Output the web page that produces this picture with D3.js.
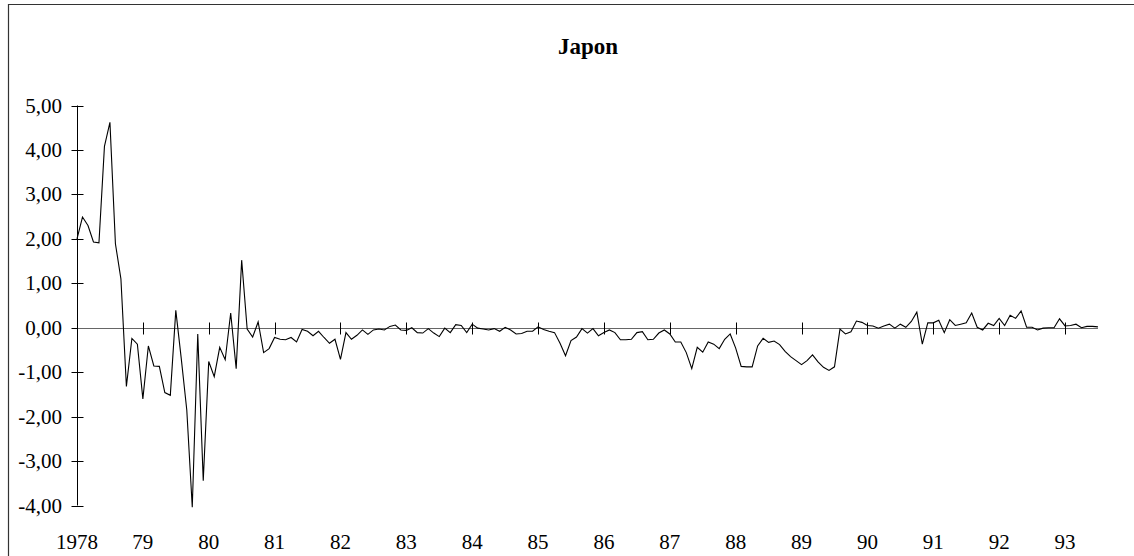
<!DOCTYPE html>
<html>
<head>
<meta charset="utf-8">
<script src="https://cdn.jsdelivr.net/npm/d3@7"></script>
<style>
  body { margin: 0; background: #fff; }
  text { font-family: "Liberation Serif", "Times New Roman", serif; fill: #000; }
</style>
</head>
<body>
<svg id="chart" width="1134" height="556"></svg>
<script>
// Japon, monthly series Jan 1978 - Jul 1993
const yearLabels = ["1978", "79", "80", "81", "82", "83", "84", "85", "86", "87", "88", "89", "90", "91", "92", "93"];
const yTicks = [5, 4, 3, 2, 1, 0, -1, -2, -3, -4];
const values = [
  2.00, 2.49, 2.30, 1.93, 1.91, 4.08, 4.62, 1.89, 1.10, -1.32, -0.24, -0.37,
  -1.60, -0.41, -0.86, -0.87, -1.46, -1.52, 0.39, -0.70, -1.85, -4.04, -0.14, -3.44,
  -0.76, -1.10, -0.44, -0.72, 0.33, -0.92, 1.52, -0.03, -0.21, 0.13, -0.56, -0.47,
  -0.22, -0.26, -0.27, -0.22, -0.32, -0.04, -0.08, -0.18, -0.08, -0.22, -0.35, -0.26,
  -0.71, -0.11, -0.26, -0.17, -0.05, -0.15, -0.05, -0.03, -0.05, 0.03, 0.06, -0.05,
  -0.06, 0.00, -0.11, -0.12, -0.02, -0.12, -0.20, -0.01, -0.11, 0.07, 0.05, -0.11,
  0.08, -0.01, -0.03, -0.05, -0.02, -0.08, 0.01, -0.05, -0.14, -0.13, -0.08, -0.08,
  0.02, -0.04, -0.08, -0.11, -0.35, -0.63, -0.29, -0.21, -0.02, -0.12, -0.02, -0.18,
  -0.11, -0.05, -0.11, -0.27, -0.27, -0.26, -0.11, -0.09, -0.27, -0.26, -0.12, -0.05,
  -0.14, -0.32, -0.32, -0.56, -0.92, -0.44, -0.55, -0.32, -0.37, -0.47, -0.26, -0.14,
  -0.46, -0.87, -0.88, -0.88, -0.41, -0.24, -0.33, -0.30, -0.38, -0.53, -0.65, -0.74,
  -0.83, -0.74, -0.61, -0.77, -0.89, -0.96, -0.88, -0.03, -0.14, -0.09, 0.15, 0.12,
  0.05, 0.04, -0.01, 0.04, 0.08, -0.01, 0.08, 0.01, 0.14, 0.35, -0.37, 0.11,
  0.11, 0.17, -0.11, 0.18, 0.05, 0.08, 0.11, 0.33, 0.01, -0.05, 0.10, 0.05,
  0.21, 0.05, 0.28, 0.21, 0.38, 0.01, 0.01, -0.05, -0.01, 0.00, 0.00, 0.20,
  0.04, 0.05, 0.08, 0.00, 0.03, 0.03, 0.02
];

const svg = d3.select("#chart");

// outer frame (runs off the right and bottom edges)
svg.append("path")
  .attr("d", "M8.5,1200 V4.5 H1200")
  .attr("fill", "none")
  .attr("stroke", "#333")
  .attr("stroke-width", 1.2);

const x = d3.scaleLinear()
  .domain([0, values.length - 1])
  .range([77, 77 + (values.length - 1) * 5.489]);

const y = d3.scaleLinear()
  .domain([-4, 5])
  .range([505.5, 105.5]);

const fmt = v => d3.format(".2f")(v).replace(".", ",").replace("−", "-");

// y axis
const yAxis = svg.append("g").attr("transform", "translate(77.5,0)");
yAxis.append("line")
  .attr("y1", y(5)).attr("y2", y(-4))
  .attr("stroke", "#000");
yAxis.selectAll(".ytick")
  .data(yTicks)
  .enter().append("line")
  .attr("x1", -6).attr("x2", 6)
  .attr("y1", d => Math.round(y(d)) + 0.5)
  .attr("y2", d => Math.round(y(d)) + 0.5)
  .attr("stroke", "#000");
svg.selectAll(".ylab")
  .data(yTicks)
  .enter().append("text")
  .attr("x", 62)
  .attr("y", d => y(d) + 7)
  .attr("text-anchor", "end")
  .attr("font-size", 21)
  .text(fmt);

// x axis at zero
const y0 = Math.round(y(0)) + 0.5;
svg.append("line")
  .attr("x1", x(0)).attr("x2", x(values.length - 1))
  .attr("y1", y0).attr("y2", y0)
  .attr("stroke", "#666");
svg.selectAll(".xtick")
  .data(yearLabels)
  .enter().append("line")
  .attr("x1", (d, i) => Math.round(x(i * 12)) + 0.5)
  .attr("x2", (d, i) => Math.round(x(i * 12)) + 0.5)
  .attr("y1", y0 - 6).attr("y2", y0 + 6)
  .attr("stroke", "#000");
svg.selectAll(".xlab")
  .data(yearLabels)
  .enter().append("text")
  .attr("x", (d, i) => x(i * 12))
  .attr("y", 549)
  .attr("text-anchor", "middle")
  .attr("font-size", 21)
  .text(d => d);

// series
const line = d3.line()
  .x((d, i) => x(i))
  .y(d => y(d));

svg.append("path")
  .datum(values)
  .attr("d", line)
  .attr("fill", "none")
  .attr("stroke", "#000")
  .attr("stroke-width", 1.1);

// title
svg.append("text")
  .attr("x", 588)
  .attr("y", 54)
  .attr("text-anchor", "middle")
  .attr("font-size", 23)
  .attr("font-weight", "bold")
  .text("Japon");
</script>
</body>
</html>
